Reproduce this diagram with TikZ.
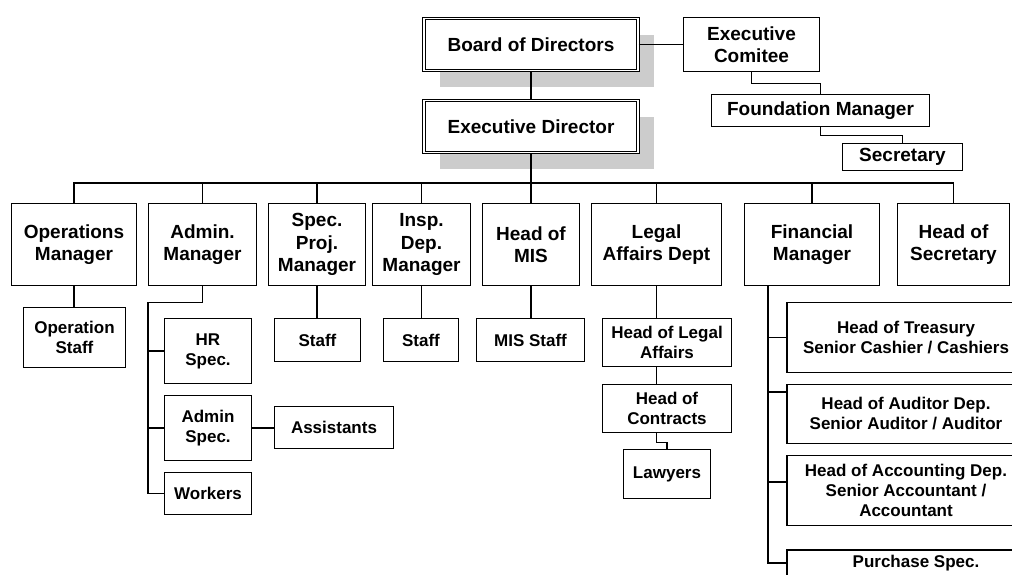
\documentclass[tikz,border=0pt]{standalone}
\usepackage{fontspec}
\setmainfont{Liberation Sans}
\usetikzlibrary{shadows, calc}

\begin{document}
\begin{tikzpicture}[
    x=1pt, y=-1pt,
    block/.style={rectangle, draw, line width=1.3pt, fill=white, align=center, inner sep=0pt, font=\bfseries\fontsize{19}{22.5}\selectfont},
    subblock/.style={block, font=\bfseries\fontsize{17}{20}\selectfont},
    headblock/.style={block, double, line width=1pt, double distance=1.5pt, drop shadow={shadow xshift=16pt, shadow yshift=-16pt, fill=black!20, opacity=1}},
    line/.style={line width=1.3pt}
]
\useasboundingbox (0,0) rectangle (1012,574);
\clip (0,0) rectangle (1012,574);

% Board
\node (board) [headblock, minimum width=214pt, minimum height=52pt] at (531,44.5) {Board of Directors};
\node (execdir) [headblock, minimum width=214pt, minimum height=52pt] at (531,126.5) {Executive Director};

% Committee branch
\node (comitee) [block, minimum width=136pt, minimum height=54pt] at (751.5,44.5) {Executive\\Comitee};
\node (found) [block, minimum width=218pt, minimum height=32pt] at (820.5,110.5) {Foundation Manager};
\node (secr) [block, minimum width=120pt, minimum height=27pt] at (902.5,157) {Secretary};

% Managers
\node (opsm) [block, minimum width=125pt, minimum height=82pt] at (74,244.5) {Operations\\Manager};
\node (adminm) [block, minimum width=108pt, minimum height=82pt] at (202.5,244.5) {Admin.\\Manager};
\node (specm) [block, minimum width=97pt, minimum height=82pt] at (317,244.5) {Spec.\\Proj.\\Manager};
\node (inspm) [block, minimum width=98pt, minimum height=82pt] at (421.5,244.5) {Insp.\\Dep.\\Manager};
\node (mism) [block, minimum width=97pt, minimum height=82pt] at (531,244.5) {Head of\\MIS};
\node (legal) [block, minimum width=130pt, minimum height=82pt] at (656.5,244.5) {Legal\\Affairs Dept};
\node (finm) [block, minimum width=135pt, minimum height=82pt] at (812,244.5) {Financial\\Manager};
\node (headsec) [block, minimum width=112pt, minimum height=82pt] at (953.5,244.5) {Head of\\Secretary};

% Staff
\node (opstaff) [subblock, minimum width=102pt, minimum height=60pt] at (74.5,337.5) {Operation\\Staff};
\node (hrspec) [subblock, minimum width=87pt, minimum height=65pt] at (208,351) {HR\\Spec.};
\node (adminspec) [subblock, minimum width=87pt, minimum height=65pt] at (208,428) {Admin\\Spec.};
\node (workers) [subblock, minimum width=87pt, minimum height=42pt] at (208,493.5) {Workers};
\node (assist) [subblock, minimum width=119pt, minimum height=42pt] at (334,427.5) {Assistants};
\node (specstaff) [subblock, minimum width=86pt, minimum height=43pt] at (317.5,340) {Staff};
\node (inspstaff) [subblock, minimum width=75pt, minimum height=43pt] at (421,340) {Staff};
\node (misstaff) [subblock, minimum width=108pt, minimum height=43pt] at (530.5,340) {MIS Staff};
\node (headlegal) [subblock, minimum width=129pt, minimum height=48pt] at (667,342.5) {Head of Legal\\Affairs};
\node (contracts) [subblock, minimum width=129pt, minimum height=48pt] at (667,408.5) {Head of\\Contracts};
\node (lawyers) [subblock, minimum width=87pt, minimum height=49pt] at (667,474) {Lawyers};

% Finance
\node (treasury) [subblock, minimum width=238pt, minimum height=70pt] at (906,337.5) {Head of Treasury\\Senior Cashier / Cashiers};
\node (auditor) [subblock, minimum width=238pt, minimum height=59pt] at (906,414) {Head of Auditor Dep.\\Senior Auditor / Auditor};
\node (accounting) [subblock, minimum width=238pt, minimum height=70pt] at (906,490.5) {Head of Accounting Dep.\\Senior Accountant /\\Accountant};
\node (purchase) [subblock, minimum width=258pt, minimum height=26pt] at (916,563) {Purchase Spec.};

% Lines
\coordinate (bus) at (531,183);
\draw [line] (board) -- (execdir);
\draw [line] (board.east) -- (comitee.west);
\draw [line] (comitee.south) -- ++(0,11) -| (found.north);
\draw [line] (found.south) -- ++(0,8) -| (secr.north);

\draw [line] (execdir.south) -- (bus) -| (opsm.north);
\draw [line] (bus) -| (adminm.north);
\draw [line] (bus) -| (specm.north);
\draw [line] (bus) -| (inspm.north);
\draw [line] (bus) -- (mism.north);
\draw [line] (bus) -| (legal.north);
\draw [line] (bus) -| (finm.north);
\draw [line] (bus) -| (headsec.north);

\draw [line] (opsm.south) -- (opsm.south |- opstaff.north);
\draw [line] (adminm.south) -- ++(0,16) -| ([xshift=-16pt]workers.west) -- (workers.west);
\draw [line] (hrspec.west) -- ++(-16,0);
\draw [line] (adminspec.west) -- ++(-16,0);
\draw [line] (adminspec.east) -- (adminspec.east -| assist.west);
\draw [line] (specm.south) -- (specm.south |- specstaff.north);
\draw [line] (inspm.south) -- (inspm.south |- inspstaff.north);
\draw [line] (mism.south) -- (mism.south |- misstaff.north);
\draw [line] (legal.south) -- (legal.south |- headlegal.north);
\draw [line] (legal.south |- headlegal.south) -- (legal.south |- contracts.north);
\draw [line] (legal.south |- contracts.south) -- ++(0,9) -| (lawyers.north);

\draw [line] ([xshift=24pt]finm.south west) |- (purchase.west);
\draw [line] (treasury.west) -- ++(-19,0);
\draw [line] ([yshift=-8pt]auditor.north west) -- ++(-19,0);
\draw [line] ([yshift=-27pt]accounting.north west) -- ++(-19,0);

\end{tikzpicture}
\end{document}
